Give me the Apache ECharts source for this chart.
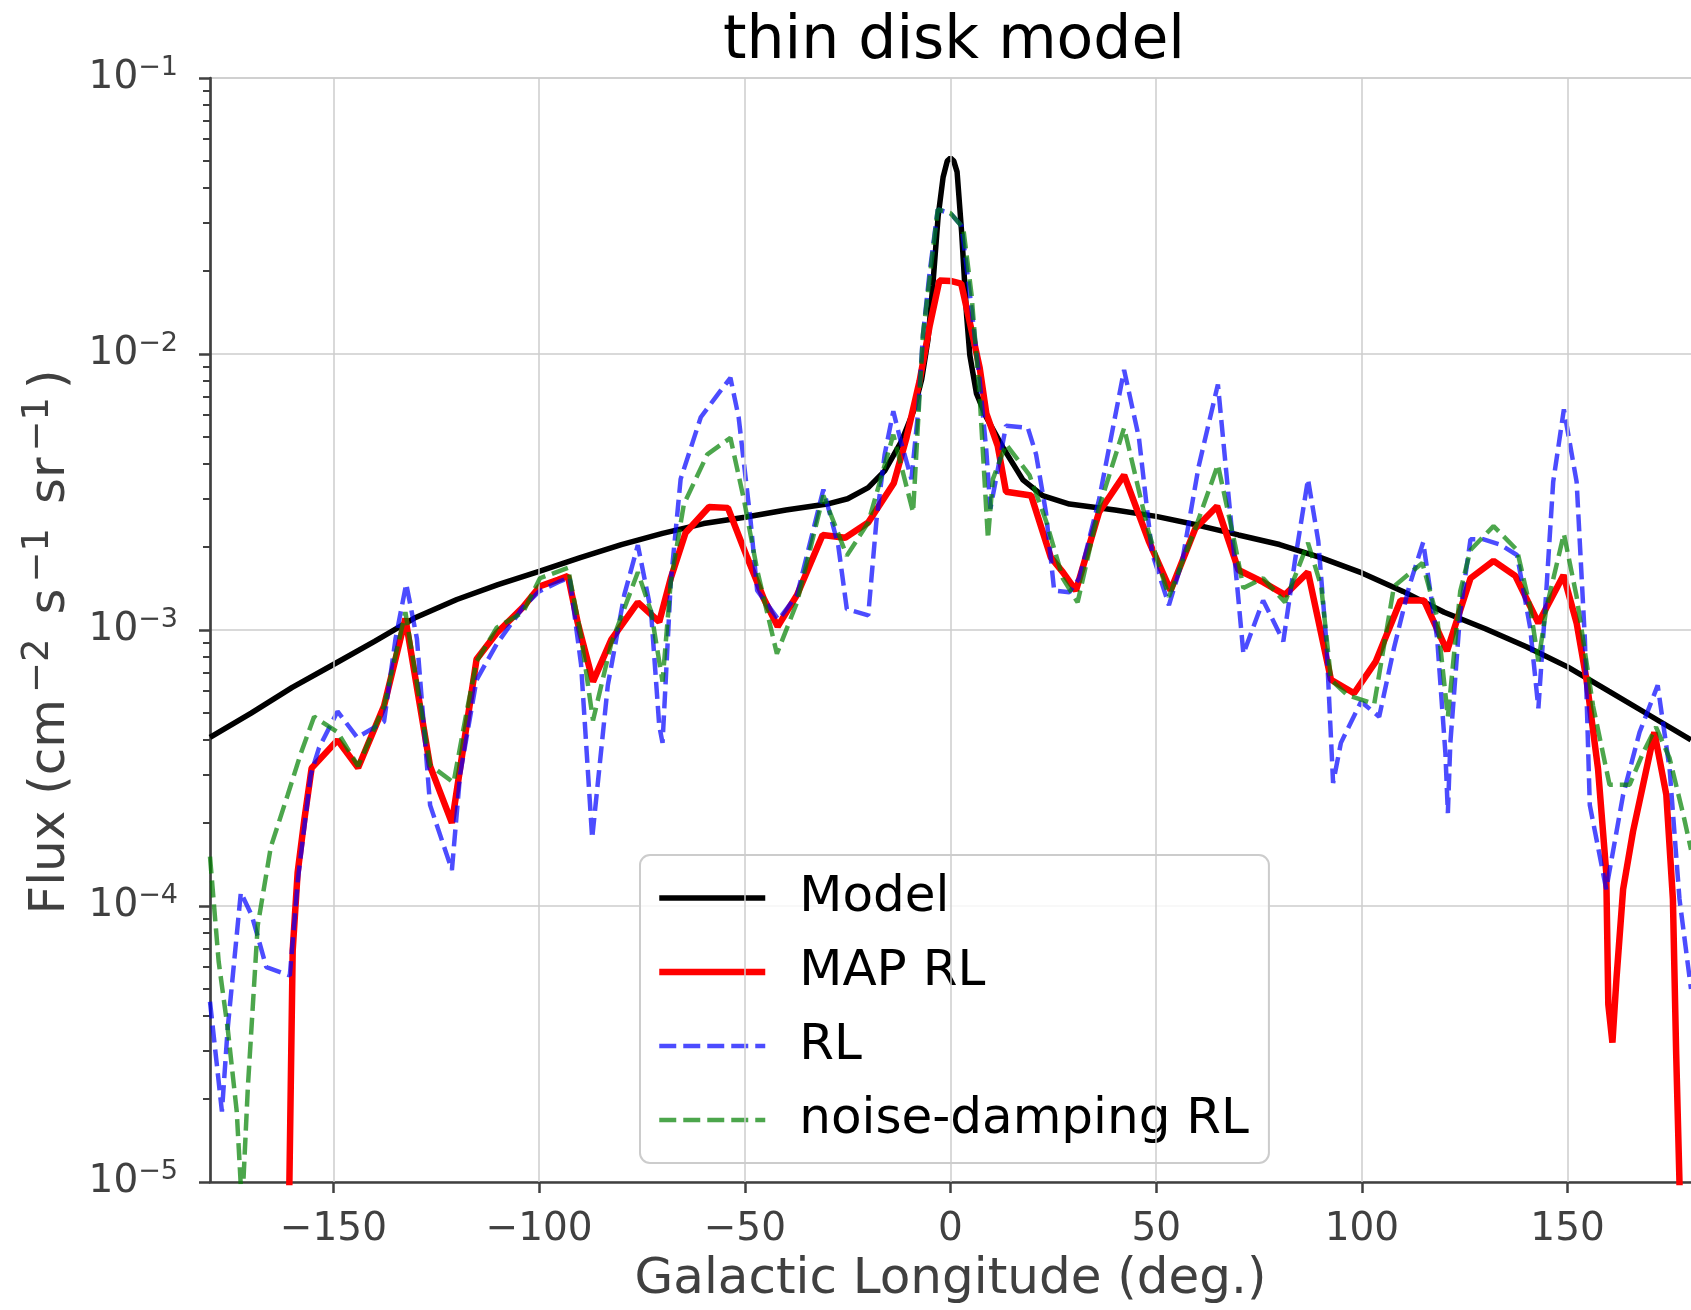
<!DOCTYPE html>
<html>
<head>
<meta charset="utf-8">
<script src="https://cdn.jsdelivr.net/npm/echarts@6/dist/echarts.min.js"></script>
<style>
  html, body { margin: 0; padding: 0; background: #fff; }
  #chart { width: 1691px; height: 1310px; }
</style>
</head>
<body>
<div id="chart"></div>
<script>
// x ticks (galactic longitude, deg.)
const xTicks = [-150, -100, -50, 0, 50, 100, 150];

// Model (thin disk)
const modelLon = [-180, -170, -160, -150, -140, -130, -120, -110, -100, -90, -80, -70, -60, -50, -40, -30, -25, -20, -16, -12, -9, -7, -5.5, -4.3, -3, -1.8, -0.8, 0, 0.8, 1.6, 2.7, 3.9, 4.7, 6.3, 8.7, 12.7, 17.6, 22.4, 28.9, 40, 50, 60, 70, 80, 90, 100, 110, 120, 130, 140, 150, 160, 170, 180];
const modelFlux = [4.08e-4, 5.0e-4, 6.2e-4, 7.5e-4, 9.1e-4, 1.11e-3, 1.29e-3, 1.46e-3, 1.63e-3, 1.83e-3, 2.04e-3, 2.24e-3, 2.43e-3, 2.56e-3, 2.72e-3, 2.86e-3, 2.99e-3, 3.28e-3, 3.77e-3, 4.8e-3, 6.2e-3, 8.1e-3, 0.0112, 0.0177, 0.0316, 0.0437, 0.050, 0.0513, 0.050, 0.0457, 0.0277, 0.0139, 9.9e-3, 7.2e-3, 5.9e-3, 4.6e-3, 3.5e-3, 3.07e-3, 2.86e-3, 2.72e-3, 2.58e-3, 2.4e-3, 2.21e-3, 2.04e-3, 1.83e-3, 1.61e-3, 1.38e-3, 1.16e-3, 1.01e-3, 8.7e-4, 7.35e-4, 6.0e-4, 4.9e-4, 4.0e-4];

// MAP RL
const mapLon = [-161.3, -160.7, -159.9, -158.7, -157.1, -155.3, -149, -144, -137.7, -132.5, -126.5, -121.2, -115.2, -110.3, -103.9, -99.8, -95.4, -93, -90.6, -86.9, -82.5, -76, -70.8, -68, -64.4, -58.7, -54.1, -49.4, -45.4, -42, -37.3, -31.1, -25.6, -20, -13.8, -10.7, -7.5, -5.1, -2.7, 0, 2.6, 4.7, 7.1, 8.7, 11.5, 13.5, 19.6, 24.4, 27.3, 30.5, 36.1, 42.2, 48.2, 53.5, 59.5, 64.8, 70, 76, 81.3, 86.9, 92.5, 98.1, 103.4, 109.4, 115.1, 120.7, 126.4, 132, 137.3, 142.9, 149, 152.2, 154.6, 157.4, 159.4, 159.9, 160.9, 161.9, 163.5, 165.9, 171.1, 174, 175.6, 176.4, 177.2, 177.6];
const mapFlux = [4e-6, 1.0e-5, 6.9e-5, 1.32e-4, 2.04e-4, 3.16e-4, 3.99e-4, 3.17e-4, 5.3e-4, 1.10e-3, 3.21e-4, 2.0e-4, 7.83e-4, 9.75e-4, 1.21e-3, 1.44e-3, 1.52e-3, 1.57e-3, 1.06e-3, 6.5e-4, 9.2e-4, 1.26e-3, 1.07e-3, 1.54e-3, 2.25e-3, 2.79e-3, 2.77e-3, 1.83e-3, 1.30e-3, 1.03e-3, 1.34e-3, 2.21e-3, 2.16e-3, 2.45e-3, 3.40e-3, 4.97e-3, 8.0e-3, 0.01256, 0.01845, 0.0184, 0.0180, 0.0130, 8.9e-3, 6.1e-3, 4.63e-3, 3.17e-3, 3.07e-3, 1.83e-3, 1.62e-3, 1.39e-3, 2.67e-3, 3.64e-3, 2.10e-3, 1.39e-3, 2.33e-3, 2.81e-3, 1.65e-3, 1.49e-3, 1.34e-3, 1.62e-3, 6.6e-4, 5.9e-4, 7.7e-4, 1.28e-3, 1.28e-3, 8.4e-4, 1.54e-3, 1.78e-3, 1.57e-3, 1.06e-3, 1.58e-3, 1.06e-3, 6.6e-4, 3.14e-4, 1.32e-4, 4.4e-5, 3.2e-5, 5.5e-5, 1.15e-4, 1.86e-4, 4.26e-4, 2.53e-4, 1.06e-4, 2.9e-5, 1.0e-5, 4e-6];

// RL
const rlLon = [-180, -177.1, -175.7, -172.5, -169.8, -166.3, -160.6, -158.6, -155.5, -153.5, -149, -144.2, -137.7, -134.9, -132.3, -129.7, -126.5, -121.2, -119.2, -115.2, -110.3, -103.9, -100, -95.4, -92.6, -89.8, -87.1, -83.3, -79.3, -76, -72.8, -70.8, -70, -68, -65.6, -60.7, -56.7, -53.5, -51.5, -48.6, -47, -41.8, -37.3, -30.9, -27.3, -25.2, -20, -18, -16, -13.9, -12.3, -9.5, -7.9, -6.7, -5.1, -3.1, 0, 2.7, 4.7, 7.1, 8.7, 9.7, 13.5, 18.8, 20.8, 23.2, 25.2, 28.9, 31.3, 36.1, 42.2, 45.8, 49, 53.1, 56.3, 60.3, 65, 67.2, 69.6, 71.2, 76, 80.9, 83.7, 86.9, 89.4, 91.4, 93, 94.9, 99.8, 104.2, 107.8, 111.5, 114.9, 118.3, 120.3, 120.9, 121.5, 123.9, 126.4, 129.6, 133.6, 137.7, 140.9, 142.9, 144.9, 146.5, 149.1, 152.2, 154.2, 155.4, 159.4, 163.5, 167.5, 171.9, 174.8, 177.2, 180];
const rlFlux = [4.5e-5, 1.8e-5, 3.6e-5, 1.12e-4, 9.2e-5, 6.0e-5, 5.6e-5, 1.26e-4, 3.0e-4, 3.74e-4, 5.07e-4, 4.08e-4, 4.65e-4, 9.3e-4, 1.47e-3, 9.3e-4, 2.32e-4, 1.35e-4, 3.0e-4, 6.6e-4, 8.9e-4, 1.21e-3, 1.38e-3, 1.49e-3, 1.55e-3, 7.5e-4, 1.76e-4, 6.3e-4, 1.34e-3, 2.03e-3, 1.17e-3, 4.5e-4, 3.9e-4, 1.49e-3, 3.52e-3, 5.9e-3, 7.1e-3, 8.2e-3, 5.9e-3, 2.49e-3, 1.39e-3, 1.09e-3, 1.34e-3, 3.23e-3, 2.03e-3, 1.19e-3, 1.13e-3, 2.49e-3, 4.33e-3, 6.2e-3, 4.97e-3, 3.52e-3, 6.1e-3, 0.01172, 0.0196, 0.0334, 0.0323, 0.0291, 0.0165, 8.0e-3, 4.48e-3, 2.75e-3, 5.5e-3, 5.4e-3, 4.33e-3, 2.67e-3, 1.39e-3, 1.37e-3, 1.54e-3, 2.96e-3, 8.75e-3, 4.97e-3, 1.90e-3, 1.23e-3, 1.77e-3, 3.9e-3, 7.76e-3, 3.52e-3, 1.49e-3, 8.2e-4, 1.28e-3, 9.1e-4, 1.77e-3, 3.52e-3, 2.10e-3, 8.9e-4, 2.79e-4, 3.9e-4, 5.5e-4, 4.85e-4, 8.6e-4, 1.44e-3, 2.08e-3, 9.3e-4, 3.58e-4, 2.17e-4, 3.9e-4, 1.16e-3, 2.13e-3, 2.13e-3, 2.04e-3, 1.87e-3, 1.02e-3, 5.2e-4, 1.44e-3, 3.44e-3, 6.3e-3, 3.44e-3, 9.3e-4, 2.32e-4, 1.15e-4, 2.53e-4, 4.26e-4, 6.3e-4, 3.14e-4, 1.06e-4, 5.0e-5];

// noise-damping RL
const ndLon = [-180, -177.9, -175.7, -173.5, -172.2, -170.8, -168.4, -165.2, -161.1, -157.9, -154.7, -149, -144, -137.7, -132.5, -126.5, -120.8, -117.6, -115.2, -110.3, -103.9, -99.8, -93, -89.8, -86.9, -82.5, -76, -72.8, -70, -68, -64.8, -59.1, -53.5, -50.2, -47, -42.2, -37.3, -30.9, -25.2, -20, -13.9, -9.1, -6.7, -3.1, 0, 3.1, 5.1, 7.1, 9.1, 10.3, 13.5, 19.2, 23.2, 27.3, 30.9, 36.1, 42.2, 48.2, 53.1, 59.5, 65, 69.2, 71.2, 76, 81.3, 86.9, 90.1, 92.5, 96.5, 103, 107.8, 114.7, 118.3, 120.9, 123.9, 126.4, 132, 137.7, 140.9, 142.9, 144.9, 149.1, 152.2, 156.2, 160.2, 165.1, 168.3, 171.5, 174.8, 178.2, 180];
const ndFlux = [1.51e-4, 6.3e-5, 3.6e-5, 1.8e-5, 8e-6, 2.2e-5, 8.5e-5, 1.64e-4, 2.53e-4, 3.58e-4, 4.85e-4, 4.27e-4, 3.21e-4, 5.3e-4, 1.16e-3, 3.24e-4, 2.8e-4, 5.07e-4, 7.7e-4, 1.02e-3, 1.16e-3, 1.54e-3, 1.68e-3, 9.5e-4, 4.7e-4, 8.9e-4, 1.62e-3, 1.17e-3, 6.5e-4, 1.49e-3, 2.86e-3, 4.33e-3, 4.97e-3, 2.96e-3, 1.65e-3, 8.2e-4, 1.26e-3, 3.07e-3, 1.86e-3, 2.45e-3, 5.1e-3, 2.67e-3, 0.01175, 0.0334, 0.0324, 0.0286, 0.0165, 7.0e-3, 2.14e-3, 3.52e-3, 4.71e-3, 3.64e-3, 2.49e-3, 1.54e-3, 1.26e-3, 2.77e-3, 5.4e-3, 2.25e-3, 1.32e-3, 2.33e-3, 3.97e-3, 2.03e-3, 1.42e-3, 1.54e-3, 1.26e-3, 2.07e-3, 1.44e-3, 6.6e-4, 5.8e-4, 5.4e-4, 1.44e-3, 1.75e-3, 1.11e-3, 4.85e-4, 1.38e-3, 1.95e-3, 2.38e-3, 1.95e-3, 1.21e-3, 7.7e-4, 1.21e-3, 2.23e-3, 1.32e-3, 5.3e-4, 2.75e-4, 2.75e-4, 3.58e-4, 4.45e-4, 3.43e-4, 2.12e-4, 1.6e-4];

// log-axis minor ticks (2..9 x 10^n), in log10 units for the helper axis
const minorTicks = [];
for (let e = -5; e < -1; e++) {
  for (let k = 2; k <= 9; k++) minorTicks.push(e + Math.log10(k));
}

const zip = (xs, ys) => xs.map((x, i) => [x, ys[i]]);

const FONT = "DejaVu Sans";
const AXIS_COLOR = "#404040";

const chart = echarts.init(document.getElementById("chart"), null, { renderer: "canvas" });

chart.setOption({
  animation: false,
  backgroundColor: "#ffffff",
  textStyle: { fontFamily: FONT },
  title: {
    text: "thin disk model",
    left: 718,
    top: 7,
    textStyle: { fontFamily: FONT, fontSize: 60, fontWeight: "normal", color: "#000" },
  },
  grid: { left: 210, top: 78, width: 1488, height: 1109, containLabel: false },
  legend: {
    data: ["Model", "MAP RL", "RL", "noise-damping RL"],
    orient: "vertical",
    left: 640,
    top: 855,
    padding: [18, 20, 18, 16],
    itemGap: 24,
    itemWidth: 106,
    itemHeight: 14,
    itemTextGap: 5,
    itemStyle: { opacity: 0 },
    lineStyle: { width: "inherit" },
    backgroundColor: "rgba(255,255,255,0.8)",
    borderColor: "#cccccc",
    borderWidth: 2,
    borderRadius: 10,
    textStyle: { fontFamily: FONT, fontSize: 50, color: "#000", padding: [0, 0, 0, 29] },
  },
  xAxis: {
    type: "value",
    min: -180,
    max: 180,
    name: "Galactic Longitude (deg.)",
    nameLocation: "middle",
    nameGap: 73,
    nameTextStyle: { fontFamily: FONT, fontSize: 50, color: AXIS_COLOR },
    axisLine: { onZero: false, lineStyle: { color: AXIS_COLOR, width: 2.7 } },
    axisTick: { customValues: xTicks, length: 11, lineStyle: { color: AXIS_COLOR, width: 2.5 } },
    axisLabel: {
      customValues: xTicks,
      fontFamily: FONT,
      fontSize: 39,
      color: AXIS_COLOR,
      margin: 28,
      formatter: (v) => (v < 0 ? "\u2212" + Math.abs(v) : String(v)),
    },
    splitLine: { show: false },
  },
  yAxis: [
    {
      type: "log",
      logBase: 10,
      min: 1e-5,
      max: 0.1,
      name: "Flux (cm{s|\u22122} s{s|\u22121} sr{s|\u22121})",
      nameLocation: "middle",
      nameRotate: 90,
      nameGap: 127,
      nameTextStyle: {
        fontFamily: FONT,
        fontSize: 50,
        color: AXIS_COLOR,
        padding: [0, 24, 0, 0],
        rich: { s: { fontFamily: FONT, fontSize: 37, color: AXIS_COLOR, padding: [0, 8, 26, 6] } },
      },
      axisLine: { onZero: false, lineStyle: { color: AXIS_COLOR, width: 2.7 } },
      axisTick: { length: 11, lineStyle: { color: AXIS_COLOR, width: 2.5 } },
      axisLabel: {
        fontFamily: FONT,
        fontSize: 39,
        color: AXIS_COLOR,
        margin: 32,
        formatter: (v) => "10{s|\u2212" + Math.abs(Math.round(Math.log10(v))) + "}",
        rich: { s: { fontFamily: FONT, fontSize: 27, color: AXIS_COLOR, padding: [0, 0, 21, 0] } },
      },
      splitLine: { show: true, lineStyle: { color: "#cccccc", width: 1.5 } },
    },
    {
      // helper axis that only carries the minor ticks of the log scale
      type: "value",
      min: -5,
      max: -1,
      position: "left",
      axisLine: { show: false, onZero: false },
      axisTick: { show: true, customValues: minorTicks, length: 7, lineStyle: { color: AXIS_COLOR, width: 2 } },
      axisLabel: { show: false },
      splitLine: { show: false },
    },
  ],
  series: [
    {
      name: "grid",
      type: "line",
      data: [],
      z: 1,
      silent: true,
      markLine: {
        silent: true,
        symbol: ["none", "none"],
        label: { show: false },
        lineStyle: { color: "#cccccc", width: 1.5, type: "solid" },
        data: xTicks.map((v) => ({ xAxis: v })),
      },
    },
    {
      name: "Model",
      type: "line",
      data: zip(modelLon, modelFlux),
      symbol: "none",
      z: 2,
      lineStyle: { color: "#000000", width: 5.5 },
      itemStyle: { color: "#000000" },
    },
    {
      name: "MAP RL",
      type: "line",
      data: zip(mapLon, mapFlux),
      symbol: "none",
      z: 3,
      lineStyle: { color: "#ff0000", width: 6.5 },
      itemStyle: { color: "#ff0000" },
    },
    {
      name: "RL",
      type: "line",
      data: zip(rlLon, rlFlux),
      symbol: "none",
      z: 4,
      lineStyle: { color: "rgba(0,0,255,0.7)", width: 4.5, type: [17, 7] },
      itemStyle: { color: "rgba(0,0,255,0.7)" },
    },
    {
      name: "noise-damping RL",
      type: "line",
      data: zip(ndLon, ndFlux),
      symbol: "none",
      z: 5,
      lineStyle: { color: "rgba(0,128,0,0.7)", width: 4.5, type: [17, 7] },
      itemStyle: { color: "rgba(0,128,0,0.7)" },
    },
  ],
});
</script>
</body>
</html>
